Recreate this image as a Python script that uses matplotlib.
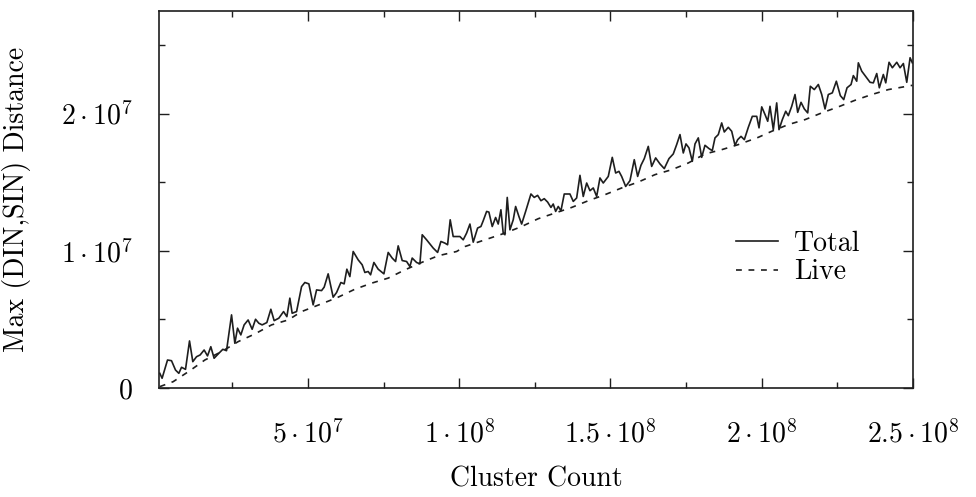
import matplotlib
matplotlib.use("Agg")
import matplotlib.pyplot as plt
from matplotlib.ticker import MultipleLocator, FuncFormatter
import numpy as np

plt.rcParams["font.family"] = "serif"
plt.rcParams["font.serif"] = ["cmr10"]
plt.rcParams["mathtext.fontset"] = "cm"
plt.rcParams["axes.unicode_minus"] = False

# values in millions
total_x = [1.07, 1.83, 3.62, 4.94, 6.26, 7.36, 8.25, 9.57, 10.89, 11.98,
           13.21, 14.40, 15.72, 16.84, 17.93, 19.02, 20.58, 21.90, 23.12, 24.78,
           25.87, 26.76, 27.85, 28.94, 30.26, 31.59, 32.71, 33.80, 34.89, 36.45,
           37.77, 38.86, 40.41, 41.97, 43.06, 44.05, 44.81, 46.27, 47.92,
           49.01, 50.33, 51.75, 52.88, 54.53, 55.39, 56.71, 58.36, 59.49, 60.91,
           62.00, 62.89, 63.88, 64.98, 66.63, 67.95, 68.84, 69.93, 70.73, 71.82,
           73.24, 75.13, 76.55, 77.87, 78.99, 79.85, 81.18, 82.63, 83.72, 84.48,
           85.93, 87.03, 87.79, 89.24, 91.42, 92.88, 93.97, 95.29, 96.18, 97.04,
           98.03,
           100.25, 101.34, 102.46, 103.56, 104.65, 106.10, 107.19, 107.95, 109.08, 109.83,
           110.93, 112.05, 112.91, 113.80, 114.56, 115.13, 115.89, 116.78, 117.87, 118.66,
           119.75, 120.65, 121.97, 123.72, 124.81, 125.93, 127.03, 128.12, 129.24, 130.33,
           131.09, 131.89, 132.75, 133.64, 134.73, 136.61, 137.71, 138.83, 139.92, 141.01,
           142.14, 143.23, 144.32, 145.44, 146.53, 147.62,
           149.28, 150.60, 151.72, 152.81, 153.70, 155.03, 156.45, 157.87, 158.99, 160.08,
           161.18, 162.50, 163.62, 164.94, 166.37, 167.79, 169.34, 170.76, 171.88, 172.98,
           174.07, 174.96, 175.95, 177.05, 177.94, 179.03, 180.15, 181.24, 182.56, 183.65,
           184.55, 185.64, 186.76, 187.62, 188.94, 190.07, 191.16, 192.05, 193.15, 194.24,
           195.56, 196.88, 198.34,
           199.10, 199.99, 201.08, 201.97, 202.73, 203.82, 204.94, 205.70, 206.80, 207.92,
           208.78, 209.90, 210.99, 211.88, 212.98, 214.07, 215.19, 216.05, 217.37, 218.70,
           219.82, 220.91, 222.00, 223.32, 224.65, 225.97, 227.09, 228.18, 229.51, 230.27,
           231.39, 231.92, 233.05, 234.14, 235.79, 236.88, 238.00, 238.86, 240.18, 240.98,
           242.07, 243.16, 244.62, 245.71, 246.80, 247.92, 249.02, 249.77]
total_y = [1.07, 0.71, 2.04, 1.99, 1.31, 1.07, 1.51, 1.36, 3.43, 1.92,
           2.28, 2.41, 2.77, 2.34, 3.01, 2.17, 2.53, 2.82, 2.72, 5.33,
           3.26, 4.36, 3.87, 4.60, 4.96, 4.28, 5.01, 4.72, 4.60, 4.77,
           5.74, 4.91, 5.09, 5.57, 5.20, 6.55, 5.45, 5.57, 7.39,
           7.69, 7.59, 6.06, 7.15, 7.10, 7.35, 8.32, 6.62, 6.96, 7.69,
           7.59, 8.66, 8.12, 9.95, 9.34, 8.98, 8.42, 8.49, 8.25, 9.15,
           8.66, 8.32, 9.88, 9.47, 9.22, 10.36, 9.29, 9.22, 8.85, 9.47,
           9.15, 9.05, 11.17, 10.80, 10.20, 9.88, 10.68, 10.56, 10.44, 12.26,
           11.04,
           11.04, 10.80, 11.29, 11.95, 10.63, 11.66, 11.77, 12.19, 12.87, 12.82,
           11.77, 12.43, 11.95, 12.99, 11.29, 11.17, 13.89, 11.53, 12.26, 13.23,
           12.50, 11.95, 12.87, 14.14, 13.89, 14.04, 13.65, 13.80, 13.55, 13.16,
           13.41, 12.87, 13.23, 12.92, 14.14, 14.14, 13.60, 13.85, 15.50, 13.96,
           14.94, 14.38, 14.58, 13.96, 15.31, 14.94,
           15.42, 16.81, 15.67, 15.79, 15.42, 14.69, 15.11, 16.64, 15.42, 16.23,
           16.72, 17.61, 16.15, 16.77, 16.33, 15.99, 16.72, 17.06, 17.74, 18.47,
           17.13, 17.79, 17.50, 16.52, 17.79, 18.23, 16.81, 17.69, 17.45, 17.30,
           18.23, 18.47, 19.32, 18.66, 19.00, 18.71, 17.69, 18.10, 18.34, 18.10,
           19.00, 19.80, 19.80,
           18.96, 20.49, 19.93, 19.44, 20.53, 18.83, 20.78, 18.83, 19.56, 20.17,
           19.85, 20.53, 21.39, 20.09, 20.82, 20.34, 20.05, 21.99, 21.75, 22.12,
           21.39, 20.34, 21.39, 21.51, 22.36, 21.31, 21.02, 21.88, 22.12, 22.77,
           22.36, 23.70, 23.09, 22.77, 22.28, 22.24, 22.92, 21.88, 22.85, 22.24,
           23.74, 23.34, 23.74, 23.34, 23.65, 22.28, 24.07, 23.70]

live_x = [1.07, 5.47, 10.99, 15.95, 21.47, 26.96, 32.48, 38.00, 43.49, 47.92,
          55.62, 60.02, 65.54, 71.06, 76.55, 82.07, 87.59, 93.08, 99.16, 101.90,
          109.61, 115.13, 120.65, 126.14, 131.66, 137.18, 142.67, 148.18, 153.70, 159.19,
          164.71, 170.23, 175.72, 181.24, 186.76, 192.25, 198.86, 203.29, 208.78, 214.31,
          219.82, 225.31, 230.83, 236.35, 241.84, 249.77]
live_y = [0.10, 0.46, 1.26, 2.04, 2.65, 3.38, 3.94, 4.60, 4.96, 5.57,
          6.23, 6.62, 7.20, 7.64, 8.01, 8.61, 9.15, 9.64, 9.95, 10.31,
          10.88, 11.29, 11.77, 12.34, 12.75, 13.16, 13.65, 14.09, 14.58, 15.01,
          15.55, 15.91, 16.40, 17.06, 17.37, 17.74, 18.27, 18.71, 19.20, 19.56,
          20.05, 20.49, 20.97, 21.39, 21.75, 22.06]

scale = 1e6
fs = 20
ink = "#1e1e1e"


def sci_label(v, pos):
    if v == 0:
        return r"$0$"
    exp = int(np.floor(np.log10(abs(v))))
    mant = v / 10 ** exp
    mant_s = ("%.1f" % mant).rstrip("0").rstrip(".")
    return r"$%s\cdot10^{%d}$" % (mant_s, exp)


fig = plt.figure(figsize=(9.76, 4.97), dpi=100)
ax = fig.add_axes([0.1632, 0.2193, 0.7723, 0.7592])

ax.plot(np.array(total_x) * scale, np.array(total_y) * scale,
        color=ink, lw=1.2, label="Total")
ax.plot(np.array(live_x) * scale, np.array(live_y) * scale,
        color=ink, lw=1.2, linestyle=(0, (3.5, 4)), label="Live")

ax.set_xlim(0.9e6, 2.5e8)
ax.set_ylim(0, 2.75e7)

ax.xaxis.set_major_locator(MultipleLocator(5e7))
ax.xaxis.set_minor_locator(MultipleLocator(2.5e7))
ax.yaxis.set_major_locator(MultipleLocator(1e7))
ax.yaxis.set_minor_locator(MultipleLocator(5e6))
ax.xaxis.set_major_formatter(FuncFormatter(sci_label))
ax.yaxis.set_major_formatter(FuncFormatter(sci_label))

ax.tick_params(which="both", direction="in", top=True, right=True,
               color=ink, width=1.0)
ax.tick_params(which="major", length=7)
ax.tick_params(which="minor", length=4)
ax.tick_params(axis="x", which="major", pad=23, labelsize=fs)
ax.tick_params(axis="y", which="major", pad=19, labelsize=fs)

for sp in ax.spines.values():
    sp.set_color(ink)
    sp.set_linewidth(1.2)

ax.set_xlabel("Cluster Count", fontsize=fs, labelpad=13)
ax.set_ylabel("Max (DIN,SIN) Distance", fontsize=fs, labelpad=22)

ax.legend(loc="center left", bbox_to_anchor=(0.765, 0.345), frameon=False,
          fontsize=fs, handlelength=1.5, handletextpad=0.6,
          labelspacing=0.08, borderpad=0, borderaxespad=0)

plt.savefig("out.png", dpi=100)
